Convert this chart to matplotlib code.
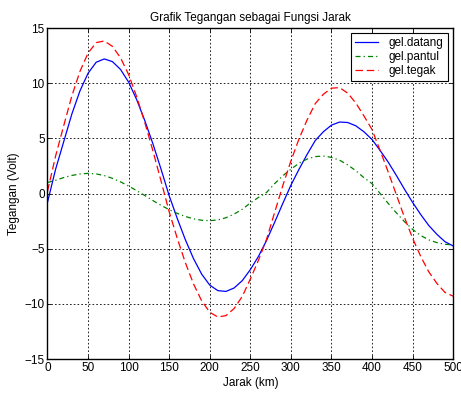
import matplotlib
matplotlib.use("Agg")
import matplotlib.pyplot as plt
import numpy as np

plt.rcParams['font.family'] = ['Liberation Sans', 'DejaVu Sans']

# jarak (km), tiap 10 km
jarak = list(range(0, 501, 10))

gel_datang = [-0.8, 2.2, 4.7, 7.2, 9.3, 10.9, 11.9, 12.2, 11.96, 11.25,
              10.1, 8.5, 6.6, 4.5, 2.2, -0.2, -2.27, -4.2, -5.9, -7.3,
              -8.3, -8.8, -8.87, -8.56, -7.9, -6.9, -5.7, -4.25, -2.6, -0.9,
              0.75, 2.2, 3.55, 4.8, 5.6, 6.2, 6.48, 6.44, 6.14, 5.6,
              4.9, 3.9, 2.84, 1.64, 0.39, -0.8, -1.9, -2.9, -3.7, -4.37,
              -4.75]

gel_pantul = [1.0, 1.2, 1.45, 1.64, 1.77, 1.83, 1.78, 1.63, 1.38, 1.06,
              0.68, 0.26, -0.18, -0.64, -1.07, -1.46, -1.8, -2.08, -2.29, -2.42,
              -2.46, -2.39, -2.19, -1.86, -1.43, -0.85, -0.35, 0.1, 0.9, 1.61,
              2.2, 2.75, 3.13, 3.35, 3.4, 3.28, 3.02, 2.6, 2.07, 1.44,
              0.9, 0.0, -0.9, -1.75, -2.55, -3.25, -3.8, -4.2, -4.45, -4.6,
              -4.65]

gel_tegak = [0.2, 3.4, 6.15, 8.84, 11.07, 12.73, 13.68, 13.83, 13.34, 12.31,
             10.78, 8.76, 6.42, 3.86, 1.13, -1.66, -4.07, -6.28, -8.19, -9.72,
             -10.76, -11.19, -11.06, -10.42, -9.33, -7.75, -6.05, -4.15, -1.7, 0.71,
             2.95, 4.95, 6.68, 8.15, 9.0, 9.55, 9.6, 9.1, 8.21, 7.04,
             5.8, 3.9, 1.94, -0.11, -2.16, -4.05, -5.7, -7.1, -8.15, -8.97,
             -9.3]

fs = 8.5

fig = plt.figure(figsize=(4.61, 3.95), dpi=100)
ax = fig.add_axes([0.103, 0.091, 0.880, 0.838])

ax.plot(jarak, gel_datang, '-', color='blue', lw=0.9, label='gel.datang')
ax.plot(jarak, gel_pantul, '-.', color=(0, 0.5, 0), lw=0.9, label='gel.pantul',
        dashes=(4, 2.5, 1, 2.5))
ax.plot(jarak, gel_tegak, '--', color='red', lw=0.9, label='gel.tegak',
        dashes=(6, 3))

ax.set_xlim(0, 500)
ax.set_ylim(-15, 15)
ax.set_xticks(np.arange(0, 501, 50))
ax.set_yticks(np.arange(-15, 16, 5))
ax.grid(True, color='black', linestyle=(0, (2, 2.5)), lw=0.6)
ax.tick_params(direction='in', labelsize=fs, length=3, width=0.6, pad=2,
               top=True, right=True)
for sp in ax.spines.values():
    sp.set_linewidth(1.0)

ax.set_title('Grafik Tegangan sebagai Fungsi Jarak', fontsize=fs, pad=5)
ax.set_xlabel('Jarak (km)', fontsize=fs, labelpad=2)
ax.set_ylabel('Tegangan (Volt)', fontsize=fs, labelpad=3)

leg = ax.legend(loc='upper right', fontsize=fs, fancybox=False, framealpha=1,
                edgecolor='black', borderaxespad=0.45, handlelength=2.0,
                handletextpad=0.9, labelspacing=0.15, borderpad=0.35)
leg.get_frame().set_linewidth(0.8)

fig.savefig('out.png', dpi=100)
